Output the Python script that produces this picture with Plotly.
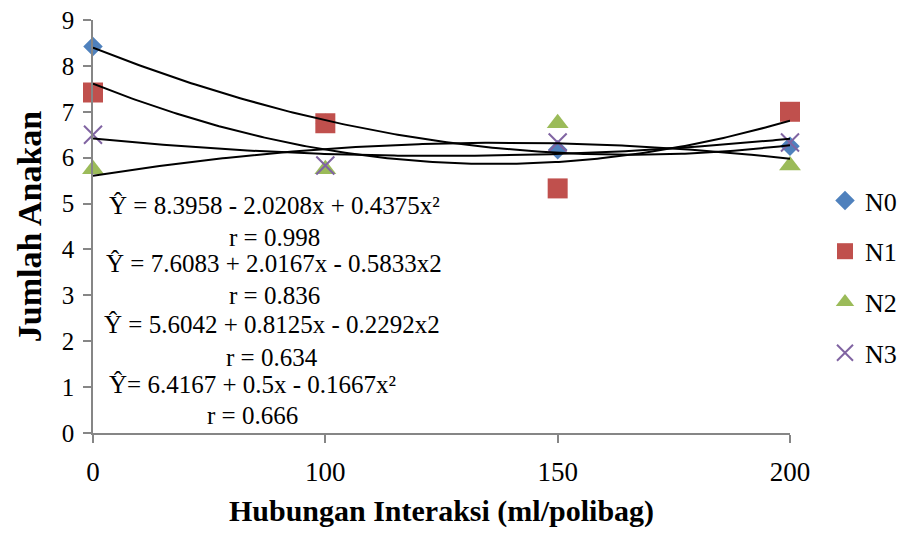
import numpy as np
import plotly.graph_objects as go

categories = ["0", "100", "150", "200"]
n0 = [8.42, 6.75, 6.17, 6.25]
n1 = [7.42, 6.75, 5.33, 7.00]
n2 = [5.75, 5.75, 6.75, 5.83]
n3 = [6.50, 5.83, 6.33, 6.33]

series = [
    ("N0", n0, "diamond", 15, "#4F81BD"),
    ("N1", n1, "square", 20, "#C0504D"),
    ("N2", n2, "triangle-up", 19, "#9BBB59"),
    ("N3", n3, "x-thin", 18, "#8064A2"),
]

equations = [
    ("Ŷ = 8.3958 - 2.0208x + 0.4375x²", "r = 0.998", 274),
    ("Ŷ = 7.6083 + 2.0167x - 0.5833x2", "r = 0.836", 274),
    ("Ŷ = 5.6042 + 0.8125x - 0.2292x2", "r = 0.634", 272),
    ("Ŷ= 6.4167 + 0.5x - 0.1667x²", "r = 0.666", 252),
]

xpos = np.arange(len(categories))
xs = np.linspace(0, len(categories) - 1, 200)

fig = go.Figure()
for name, vals, sym, size, col in series:
    if sym == "x-thin":
        marker = dict(symbol=sym, size=size, color=col, line=dict(width=2, color=col))
    else:
        marker = dict(symbol=sym, size=size, color=col, line=dict(width=0))
    fig.add_trace(go.Scatter(x=xpos, y=vals, mode="markers", name=name, marker=marker,
                             legendgroup=name, cliponaxis=False))

for name, vals, sym, size, col in series:
    c = np.polyfit(xpos, vals, 2)
    fig.add_trace(go.Scatter(x=xs, y=np.polyval(c, xs), mode="lines",
                             line=dict(color="black", width=2), showlegend=False,
                             hoverinfo="skip", cliponaxis=False))

font = "Liberation Serif, Times New Roman, serif"
# page body has an 8px margin: compensate so the plot lands where the reference has it
OFF = 8
W, H = 907 - OFF, 533 - OFF
L, R, T, B = 93 - OFF, 117, 20 - OFF, 100
pw, ph = W - L - R, H - T - B

line_y = [205, 237, 264, 295, 324, 357, 384, 415]
i = 0
for eq, r, cx in equations:
    for txt in (eq, r):
        fig.add_annotation(x=(cx - 93) / pw, y=1 - (line_y[i] - 20) / ph, xref="paper", yref="paper",
                           text=txt, showarrow=False, xanchor="center", yanchor="middle",
                           font=dict(family=font, size=25, color="black"))
        i += 1

axis_col = "#868686"
fig.update_layout(
    width=W, height=H,
    margin=dict(l=L, r=R, t=T, b=B, autoexpand=False),
    paper_bgcolor="white", plot_bgcolor="white",
    font=dict(family=font, color="black"),
    showlegend=True,
    legend=dict(x=(825 - 93) / pw, y=1 - (177 - 20) / ph, xanchor="left", yanchor="top",
                font=dict(family=font, size=26, color="black"),
                tracegroupgap=14, itemsizing="trace", itemwidth=30, bgcolor="rgba(0,0,0,0)"),
    xaxis=dict(range=[0, 3], tickmode="array", tickvals=list(xpos), ticktext=categories,
               showgrid=False, zeroline=False, showline=True, linecolor=axis_col, linewidth=1.5,
               ticks="outside", ticklen=8, tickcolor=axis_col, tickwidth=1.5, automargin=False,
               tickfont=dict(family=font, size=27, color="black"), ticklabelstandoff=6,
               ticklabeloverflow="allow",
               title=dict(text="<b>Hubungan Interaksi (ml/polibag)</b>",
                          font=dict(family=font, size=30, color="black"), standoff=14)),
    yaxis=dict(range=[0, 9], tickmode="linear", dtick=1, tick0=0,
               showgrid=False, zeroline=False, showline=True, linecolor=axis_col, linewidth=1.5,
               ticks="outside", ticklen=8, tickcolor=axis_col, tickwidth=1.5, automargin=False,
               tickfont=dict(family=font, size=25, color="black"), ticklabelstandoff=4,
               ticklabeloverflow="allow",
               title=dict(text="<b>Jumlah Anakan</b>",
                          font=dict(family=font, size=34, color="black"), standoff=10)),
)

fig.write_html("out.html")
